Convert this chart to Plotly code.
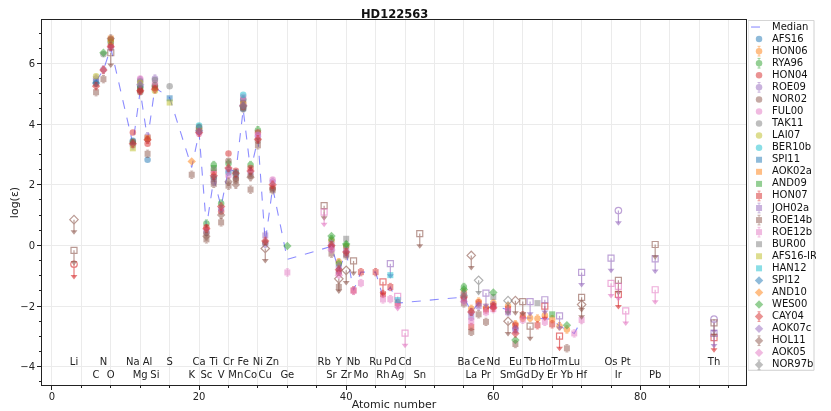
import plotly.graph_objects as go

# bottom element labels
ELEM_SYM = ["Li", "C", "N", "O", "Na", "Mg", "Al", "Si", "S", "K", "Ca", "Sc", "Ti", "V", "Cr", "Mn", "Fe", "Co",
            "Ni", "Cu", "Zn", "Ge", "Rb", "Sr", "Y", "Zr", "Nb", "Mo", "Ru", "Rh", "Pd", "Ag", "Cd", "Sn", "Ba",
            "La", "Ce", "Pr", "Nd", "Sm", "Eu", "Gd", "Tb", "Dy", "Ho", "Er", "Tm", "Yb", "Lu", "Hf", "Os", "Ir",
            "Pt", "Pb", "Th"]
ELEM_Z = [3, 6, 7, 8, 11, 12, 13, 14, 16, 19, 20, 21, 22, 23, 24, 25, 26, 27,
          28, 29, 30, 32, 37, 38, 39, 40, 41, 42, 44, 45, 46, 47, 48, 50, 56,
          57, 58, 59, 60, 62, 63, 64, 65, 66, 67, 68, 69, 70, 71, 72, 76, 77,
          78, 82, 90]

# median of detections per element
MEDIAN_Z = [6, 7, 8, 11, 12, 13, 14, 16, 19, 20, 21, 22, 23, 24, 25, 26, 27, 28, 29, 30, 32,
            38, 39, 40, 41, 42, 44, 45, 46, 47, 56, 57, 58, 59, 60, 62, 63, 64, 65, 66, 67, 68,
            69, 70, 71, 72]
MEDIAN_VAL = [5.42, 5.78, 6.51, 3.35, 5.09, 3.50, 5.20, 4.87, 2.57, 3.72, 0.60, 2.20, 1.28, 2.53,
              2.41, 4.48, 2.46, 3.51, 0.10, 1.91, -0.46, -0.03, -0.82, -0.22, -1.48, -0.88, -0.88,
              -1.70, -1.37, -1.90, -1.70, -2.19, -1.91, -2.11, -1.97, -2.13, -2.70, -2.39, -2.39,
              -2.41, -2.41, -2.43, -2.66, -2.77, -2.90, -2.46]

# detections (Z, log eps) and upper limits per reference
AFS16 = [(6, 5.42), (8, 6.70), (11, 3.45), (12, 5.25), (13, 2.82), (20, 3.75), (22, 2.25), (24, 2.40), (26, 4.50)]
HON06 = [(38, 0.15), (39, -0.55), (40, -0.05), (56, -1.55), (57, -2.09), (58, -1.85), (59, -2.05), (60, -1.90),
         (62, -2.00), (63, -2.60), (64, -2.39), (65, -2.39), (66, -2.41), (67, -2.30), (68, -2.43), (69, -2.66),
         (70, -2.77)]
RYA96 = [(11, 3.38), (12, 5.20), (14, 5.25), (20, 3.88), (21, 0.72), (22, 2.65), (23, 1.38), (24, 2.70),
         (25, 2.35), (26, 4.80), (27, 2.65), (28, 3.80), (38, 0.20), (39, -0.60), (40, 0.00), (56, -1.37)]
HON04 = [(8, 6.60), (11, 3.72), (12, 5.10), (13, 3.35), (14, 5.20), (20, 3.90), (21, 0.60), (22, 2.40),
         (23, 1.12), (24, 3.03), (25, 2.46), (26, 4.70), (27, 2.55), (28, 3.72), (30, 1.90), (38, -0.05),
         (39, -0.90), (56, -1.75)]
HON04_UL = [(3, -0.62)]
ROE09 = [(6, 5.50), (7, 5.80), (8, 6.51), (11, 3.30), (12, 5.45), (13, 3.60), (14, 5.50), (20, 3.85),
         (21, 0.45), (22, 2.10), (23, 1.20), (24, 2.50), (25, 2.30), (26, 4.82), (27, 2.40), (28, 3.60),
         (29, 0.05), (30, 2.10), (38, 0.05), (39, -0.70), (40, -0.15), (56, -1.60), (57, -2.20), (60, -1.97),
         (63, -2.75)]
ROE09_UL = [(77, 1.15), (90, -2.43)]
NOR02 = [(6, 5.32), (8, 6.78), (11, 3.42), (12, 5.05), (13, 3.50), (14, 5.28), (20, 3.80), (21, 0.40),
         (22, 2.20), (24, 2.79), (25, 2.20), (26, 4.55), (27, 2.30), (28, 3.45), (29, 0.10), (30, 1.85)]
FUL00 = [(12, 5.50), (14, 5.35), (20, 3.68), (22, 2.50), (24, 2.30), (26, 4.90), (28, 3.65), (30, 2.17)]
TAK11 = [(7, 6.30), (12, 5.40), (14, 5.45), (16, 5.25)]
LAI07 = [(6, 5.58), (8, 6.72), (12, 5.35), (14, 5.10), (20, 3.82), (26, 4.65)]
BER10b = [(20, 3.95), (25, 2.40), (26, 4.97)]
SPI11 = [(16, 4.85)]
AOK02a = [(8, 6.82), (13, 3.55)]
AND09 = [(22, 2.55), (68, -2.27)]
HON07 = [(41, -1.48), (42, -0.88), (44, -0.88), (45, -1.60), (46, -1.37), (47, -1.90), (57, -2.69),
         (58, -1.91), (59, -2.11), (60, -2.00), (62, -2.10), (63, -2.65), (64, -2.30), (66, -2.63), (68, -2.60)]
HON07_UL = [(45, -1.20), (67, -2.00), (69, -2.99), (77, -1.61), (90, -3.04)]
JOH02a = [(29, 0.33), (38, -0.10), (39, -0.85), (40, -0.28), (56, -1.80), (57, -2.35), (58, -2.00),
          (62, -2.20), (63, -2.80)]
JOH02a_UL = [(46, -0.60), (59, -1.57), (65, -1.85), (67, -1.79), (69, -2.32), (72, -0.89), (76, -0.42),
             (82, -0.44), (90, -2.90)]
ROE14b = [(6, 5.05), (7, 5.48), (12, 5.15), (13, 3.02), (19, 2.33), (21, 0.20), (22, 2.03), (23, 0.76),
          (24, 1.97), (25, 2.15), (26, 4.52), (27, 1.84), (28, 3.30), (30, 1.82), (38, -0.27), (39, -1.37),
          (40, -0.33), (56, -1.91), (57, -2.85), (58, -2.27), (59, -2.52), (63, -3.25), (70, -3.39)]
ROE14b_UL = [(3, -0.16), (8, 6.35), (37, 1.31), (41, -0.51), (50, 0.39), (64, -1.85), (65, -2.66),
             (72, -1.71), (77, -1.15), (82, 0.03), (90, -2.55)]
ROE12b = [(32, -0.89), (41, -1.50), (42, -1.24), (45, -1.78), (46, -1.77), (47, -1.95), (57, -2.50),
          (59, -2.20), (60, -2.10), (62, -2.15), (64, -2.45), (67, -2.52), (71, -2.90), (72, -2.46)]
ROE12b_UL = [(37, 1.10), (47, -1.68), (48, -2.89), (76, -1.25), (77, -1.35), (78, -2.16), (82, -1.46)]
BUR00 = [(40, 0.22), (60, -1.70), (66, -1.90)]
AFS16_IR = [(11, 3.20), (16, 4.71)]
HAN12 = [(46, -0.98), (47, -1.80)]
SPI12 = [(6, 5.35)]
AND10 = [(19, 2.77)]
WES00 = [(7, 6.35), (32, -0.02), (38, 0.31), (40, 0.05), (56, -1.45), (60, -1.55), (63, -3.12), (70, -2.63)]
CAY04 = [(6, 5.25), (7, 5.78), (8, 6.55), (11, 3.35), (12, 5.10), (13, 3.48), (14, 5.15), (20, 3.72),
         (21, 0.55), (22, 2.30), (23, 1.28), (24, 2.55), (25, 2.38), (26, 4.60), (27, 2.45), (28, 3.50),
         (29, 0.15), (30, 2.00), (38, 0.00), (39, -0.80), (40, -0.22), (56, -1.70), (57, -2.19), (60, -2.05),
         (63, -2.90)]
AOK07c = [(12, 5.30), (20, 3.78), (26, 4.62)]
HOL11 = [(8, 6.82), (21, 0.30), (23, 1.00), (24, 2.10), (25, 2.00), (27, 2.25)]
HOL11_UL = [(3, 0.85), (29, -0.10), (39, -1.10), (40, -0.82), (57, -0.33), (62, -2.50), (63, -1.82), (72, -1.95)]
AOK05 = [(38, -0.15), (39, -0.98), (56, -1.85)]
NOR97b = [(26, 4.58), (56, -1.65)]
NOR97b_UL = [(58, -1.15), (62, -1.82)]

# name, detections, upper limits, typical error (None = no error bars)
REFS = [
    ("AFS16", AFS16, [], None), ("HON06", HON06, [], 0.12), ("RYA96", RYA96, [], 0.12),
    ("HON04", HON04, HON04_UL, None), ("ROE09", ROE09, ROE09_UL, 0.12), ("NOR02", NOR02, [], None),
    ("FUL00", FUL00, [], None), ("TAK11", TAK11, [], None), ("LAI07", LAI07, [], None),
    ("BER10b", BER10b, [], None), ("SPI11", SPI11, [], None), ("AOK02a", AOK02a, [], None),
    ("AND09", AND09, [], None), ("HON07", HON07, HON07_UL, 0.12), ("JOH02a", JOH02a, JOH02a_UL, 0.12),
    ("ROE14b", ROE14b, ROE14b_UL, 0.12), ("ROE12b", ROE12b, ROE12b_UL, 0.12), ("BUR00", BUR00, [], None),
    ("AFS16-IR", AFS16_IR, [], None), ("HAN12", HAN12, [], None), ("SPI12", SPI12, [], None),
    ("AND10", AND10, [], None), ("WES00", WES00, [], None), ("CAY04", CAY04, [], 0.12),
    ("AOK07c", AOK07c, [], None), ("HOL11", HOL11, HOL11_UL, 0.12), ("AOK05", AOK05, [], None),
    ("NOR97b", NOR97b, NOR97b_UL, 0.12),
]

COLORS = ["#1f77b4", "#ff7f0e", "#2ca02c", "#d62728", "#9467bd",
          "#8c564b", "#e377c2", "#7f7f7f", "#bcbd22", "#17becf"]
SYMBOLS = ["circle"] * 10 + ["square"] * 10 + ["diamond"] * 8
SIZES = {"circle": 6.5, "square": 6, "diamond": 6.5}
ARROW = 0.4
FONT = "DejaVu Sans"

fig = go.Figure()

fig.add_trace(go.Scatter(x=MEDIAN_Z, y=MEDIAN_VAL, mode="lines",
                         line=dict(color="rgba(0,0,255,0.45)", width=1.1, dash="dash"),
                         hoverinfo="skip"))

for i, (name, det, ul, err) in enumerate(REFS):
    col = COLORS[i % 10]
    sym = SYMBOLS[i]
    if det:
        xs = [p[0] for p in det]
        ys = [p[1] for p in det]
        fig.add_trace(go.Scatter(
            x=xs, y=ys, mode="markers", name=name, opacity=0.5,
            marker=dict(symbol=sym, size=SIZES[sym], color=col, line=dict(width=0)),
            error_y=dict(type="constant", value=err, color=col, thickness=1, width=1.5,
                         visible=err is not None),
        ))
    if ul:
        xs = [p[0] for p in ul]
        ys = [p[1] for p in ul]
        fig.add_trace(go.Scatter(
            x=xs, y=ys, mode="markers", opacity=0.6,
            marker=dict(symbol=sym + "-open", size=SIZES[sym], color=col, line=dict(width=1.2)),
            error_y=dict(type="data", symmetric=False, array=[0] * len(ys), arrayminus=[ARROW] * len(ys),
                         color=col, thickness=1.2, width=0),
        ))
        fig.add_trace(go.Scatter(
            x=xs, y=[v - ARROW for v in ys], mode="markers", opacity=0.6,
            marker=dict(symbol="triangle-down", size=6, color=col, line=dict(width=0)),
        ))

# element labels, alternating two rows
fig.add_trace(go.Scatter(
    x=ELEM_Z, y=[-3.87 if k % 2 == 0 else -4.28 for k in range(len(ELEM_Z))],
    mode="text", text=ELEM_SYM, textfont=dict(size=10, color="#222222", family=FONT),
    hoverinfo="skip"))

# hand-made legend on a secondary axis (plotly's own legend is too tall here)
n = len(REFS)
fig.add_shape(type="rect", xref="x2", yref="y2", x0=748, x1=814, y0=-0.55, y1=n + 0.45,
              line=dict(color="#d0d0d0", width=1), fillcolor="white", layer="below")
fig.add_trace(go.Scatter(x=[751, 767], y=[0, 0], mode="lines", xaxis="x2", yaxis="y2",
                         line=dict(color="rgba(0,0,255,0.45)", width=1.1, dash="dash"), hoverinfo="skip"))
for i, (name, det, ul, err) in enumerate(REFS):
    sym = SYMBOLS[i]
    fig.add_trace(go.Scatter(
        x=[759], y=[i + 1], mode="markers", xaxis="x2", yaxis="y2", opacity=0.5,
        marker=dict(symbol=sym, size=SIZES[sym], color=COLORS[i % 10], line=dict(width=0)),
        error_y=dict(type="constant", value=0.4, color=COLORS[i % 10], thickness=1, width=1.5,
                     visible=err is not None),
        hoverinfo="skip"))
fig.add_trace(go.Scatter(
    x=[772] * (n + 1), y=list(range(n + 1)), mode="text", xaxis="x2", yaxis="y2",
    text=["Median"] + [r[0] for r in REFS], textposition="middle right",
    textfont=dict(size=10, color="#111111", family=FONT), hoverinfo="skip"))

axis_common = dict(showline=True, linecolor="#222222", linewidth=1, mirror=True, automargin=False,
                   ticks="outside", ticklen=4, tickcolor="#222222", zeroline=False,
                   gridcolor="#ebebeb", gridwidth=1,
                   tickfont=dict(size=10, color="#222222", family=FONT))

# page body adds an 8px offset, so the figure is 8px smaller than the window
fig.update_layout(
    width=823, height=403,
    margin=dict(l=34, r=15, t=12, b=26),
    paper_bgcolor="white", plot_bgcolor="white",
    showlegend=False,
    font=dict(family=FONT, color="#222222"),
    xaxis=dict(domain=[0, 0.9096], range=[-1.35, 94.35], tick0=0, dtick=20, ticklabelstandoff=-2,
               minor=dict(dtick=4, showgrid=True, gridcolor="#ebebeb", ticks="outside", ticklen=2,
                          tickcolor="#222222"),
               title=dict(text="Atomic number", font=dict(size=11), standoff=4),
               **axis_common),
    yaxis=dict(range=[-4.6, 7.43], tick0=0, dtick=2,
               minor=dict(dtick=0.5, showgrid=False, ticks="outside", ticklen=2, tickcolor="#222222"),
               title=dict(text="log(ε)", font=dict(size=11), standoff=4),
               **axis_common),
    xaxis2=dict(domain=[0.9122, 1.0], range=[748, 816], visible=False, anchor="y2"),
    yaxis2=dict(domain=[0, 1], range=[29.67, -0.583], visible=False, anchor="x2"),
    annotations=[dict(text="<b>HD122563</b>", xref="paper", yref="paper", x=0.4548, y=1.0,
                      xanchor="center", yanchor="bottom", yshift=-3, showarrow=False,
                      font=dict(size=11.5, color="#111111", family=FONT))],
)

fig.write_html("out.html")
